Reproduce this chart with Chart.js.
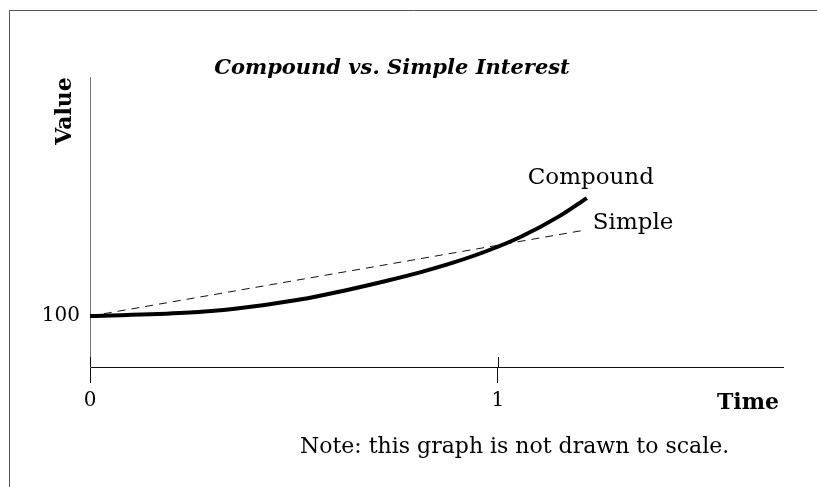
<!DOCTYPE html>
<html>
<head>
<meta charset="utf-8">
<script src="https://cdn.jsdelivr.net/npm/chart.js@4"></script>
<style>
  html, body { margin: 0; padding: 0; background: #fff; }
  #wrap { width: 817px; height: 487px; }
</style>
</head>
<body>
<div id="wrap"><canvas id="interest-chart" width="817" height="487"></canvas></div>
<script>
// values (time in years, value in currency units)
const compoundTime = [0, 0.233, 0.355, 0.515, 0.620, 0.728, 0.809, 0.890, 0.973, 1.054, 1.152, 1.218];
const compoundValue = [100, 101.3, 102.9, 106.5, 109.9, 113.9, 117.2, 121.0, 125.6, 131.0, 139.4, 146.4];
const simpleTime = [0, 1.213];
const simpleValue = [100, 133.8];
const timeTicks = [0, 1];
const valueTicks = [100];

const serif = '"DejaVu Serif", "Liberation Serif", serif';

function toPoints(xs, ys) {
    return xs.map((x, i) => ({ x: x, y: ys[i] }));
}

// frame, titles, line labels and the part of the x ticks above the axis
const decorations = {
    id: 'decorations',
    afterDraw(chart) {
        const ctx = chart.ctx;
        const xScale = chart.scales.x;
        const yScale = chart.scales.y;
        const area = chart.chartArea;
        ctx.save();

        ctx.strokeStyle = '#555';
        ctx.lineWidth = 1;
        ctx.beginPath();
        ctx.moveTo(9.5, 487);
        ctx.lineTo(9.5, 10.5);
        ctx.lineTo(817, 10.5);
        ctx.stroke();

        ctx.strokeStyle = '#111';
        timeTicks.forEach(t => {
            const px = Math.round(xScale.getPixelForValue(t)) + 0.5;
            ctx.beginPath();
            ctx.moveTo(px, area.bottom - 10);
            ctx.lineTo(px, area.bottom);
            ctx.stroke();
        });

        ctx.fillStyle = '#000';
        ctx.textAlign = 'center';
        ctx.textBaseline = 'alphabetic';
        ctx.font = 'italic bold 21px ' + serif;
        ctx.fillText('Compound vs. Simple Interest', 392, 74);

        ctx.save();
        ctx.translate(71, 111);
        ctx.rotate(-Math.PI / 2);
        ctx.font = 'bold 22px ' + serif;
        ctx.fillText('Value', 0, 0);
        ctx.restore();

        ctx.textAlign = 'right';
        ctx.font = 'bold 22px ' + serif;
        ctx.fillText('Time', 779, 409);

        ctx.textAlign = 'left';
        ctx.font = '22px ' + serif;
        ctx.fillText('Note: this graph is not drawn to scale.', 300, 453);

        const lastC = compoundTime.length - 1;
        const cx = xScale.getPixelForValue(compoundTime[lastC]);
        const cy = yScale.getPixelForValue(compoundValue[lastC]);
        ctx.font = '23px ' + serif;
        ctx.textAlign = 'center';
        ctx.fillText('Compound', cx + 4, cy - 14);

        const lastS = simpleTime.length - 1;
        const sx = xScale.getPixelForValue(simpleTime[lastS]);
        const sy = yScale.getPixelForValue(simpleValue[lastS]);
        ctx.textAlign = 'left';
        ctx.fillText('Simple', sx + 8, sy - 1);

        ctx.restore();
    }
};

new Chart(document.getElementById('interest-chart'), {
    type: 'line',
    data: {
        datasets: [{
            label: 'Compound',
            data: toPoints(compoundTime, compoundValue),
            borderColor: '#000',
            borderWidth: 4,
            pointRadius: 0,
            cubicInterpolationMode: 'monotone',
            borderCapStyle: 'butt'
        }, {
            label: 'Simple',
            data: toPoints(simpleTime, simpleValue),
            borderColor: '#111',
            borderWidth: 1,
            borderDash: [8, 6],
            pointRadius: 0
        }]
    },
    options: {
        responsive: false,
        animation: false,
        layout: { padding: { left: 0, top: 77, right: 34, bottom: 0 } },
        plugins: {
            legend: { display: false },
            tooltip: { enabled: false },
            title: { display: false }
        },
        scales: {
            x: {
                type: 'linear',
                min: 0,
                max: 1.699,
                afterBuildTicks: scale => { scale.ticks = timeTicks.map(v => ({ value: v })); },
                afterFit: scale => { scale.height = 120; },
                grid: { drawOnChartArea: false, drawTicks: true, tickLength: 16, color: '#111' },
                border: { display: true, color: '#111', width: 1 },
                ticks: { color: '#000', font: { family: serif, size: 20 }, padding: 6, maxRotation: 0 }
            },
            y: {
                type: 'linear',
                min: 80,
                max: 194,
                afterBuildTicks: scale => { scale.ticks = valueTicks.map(v => ({ value: v })); },
                afterFit: scale => { scale.width = 90; },
                grid: { display: false, drawTicks: false },
                border: { display: true, color: '#777', width: 1 },
                ticks: { color: '#000', font: { family: serif, size: 20 }, padding: 10 }
            }
        }
    },
    plugins: [decorations]
});
</script>
</body>
</html>
